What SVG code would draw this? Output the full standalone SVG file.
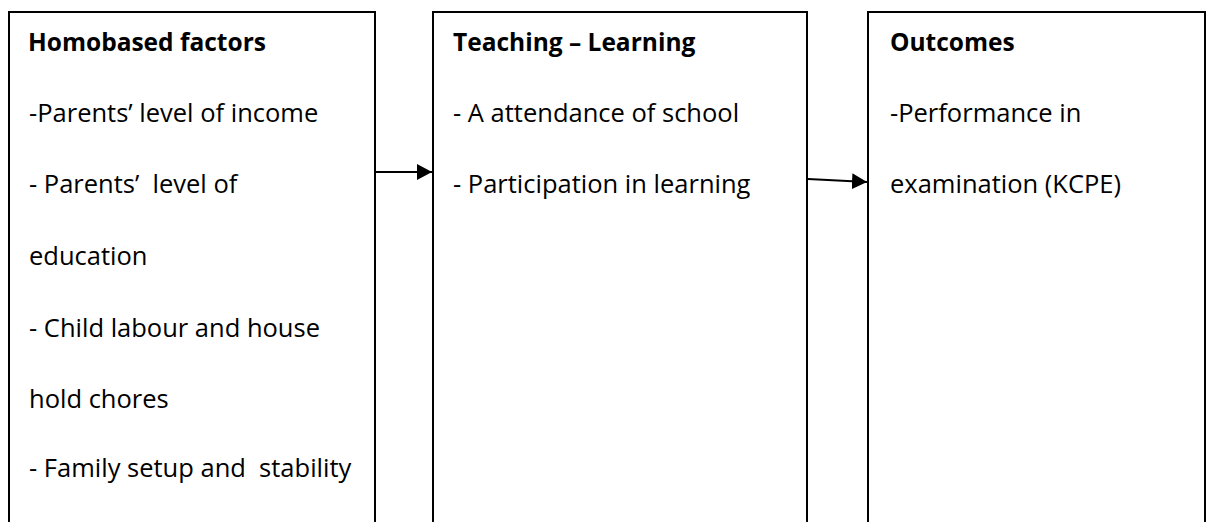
<svg xmlns="http://www.w3.org/2000/svg" width="1209" height="522" viewBox="0 0 1209 522">
  <style>
    .box { fill: #ffffff; stroke: #000000; stroke-width: 2; }
    .t { font-family: "Open Sans", "Noto Sans", "Liberation Sans", sans-serif; font-size: 25.5px; fill: #000000; }
    .b { font-weight: bold; font-size: 24.5px; }
    .conn { stroke: #000000; stroke-width: 2.2; fill: none; }
  </style>
  <defs>
    <marker id="arrow" markerUnits="userSpaceOnUse" markerWidth="16" markerHeight="16" refX="15" refY="8" orient="auto">
      <path d="M0,0 L15,8 L0,16 Z" fill="#000000"/>
    </marker>
  </defs>
  <rect width="1209" height="522" fill="#ffffff"/>
  <g id="node-homobased">
    <rect class="box" x="9" y="12" width="366" height="530"/>
    <text class="t b" x="28" y="51">Homobased factors</text>
    <text class="t" x="29" y="122">-Parents’ level of income</text>
    <text class="t" x="29" y="193" xml:space="preserve">- Parents’  level of</text>
    <text class="t" x="29" y="265">education</text>
    <text class="t" x="29" y="337">- Child labour and house</text>
    <text class="t" x="29" y="408">hold chores</text>
    <text class="t" x="29" y="477" xml:space="preserve">- Family setup and  stability</text>
  </g>
  <g id="node-teaching">
    <rect class="box" x="433" y="12" width="374" height="530"/>
    <text class="t b" x="453" y="51">Teaching – Learning</text>
    <text class="t" x="453" y="122">- A attendance of school</text>
    <text class="t" x="453" y="193">- Participation in learning</text>
  </g>
  <g id="node-outcomes">
    <rect class="box" x="868" y="12" width="337" height="530"/>
    <text class="t b" x="890" y="51">Outcomes</text>
    <text class="t" x="890" y="122">-Performance in</text>
    <text class="t" x="890" y="193">examination (KCPE)</text>
  </g>
  <g id="connectors">
    <line class="conn" x1="376" y1="172" x2="432" y2="172" marker-end="url(#arrow)"/>
    <line class="conn" x1="808" y1="179" x2="867" y2="182" marker-end="url(#arrow)"/>
  </g>
</svg>
